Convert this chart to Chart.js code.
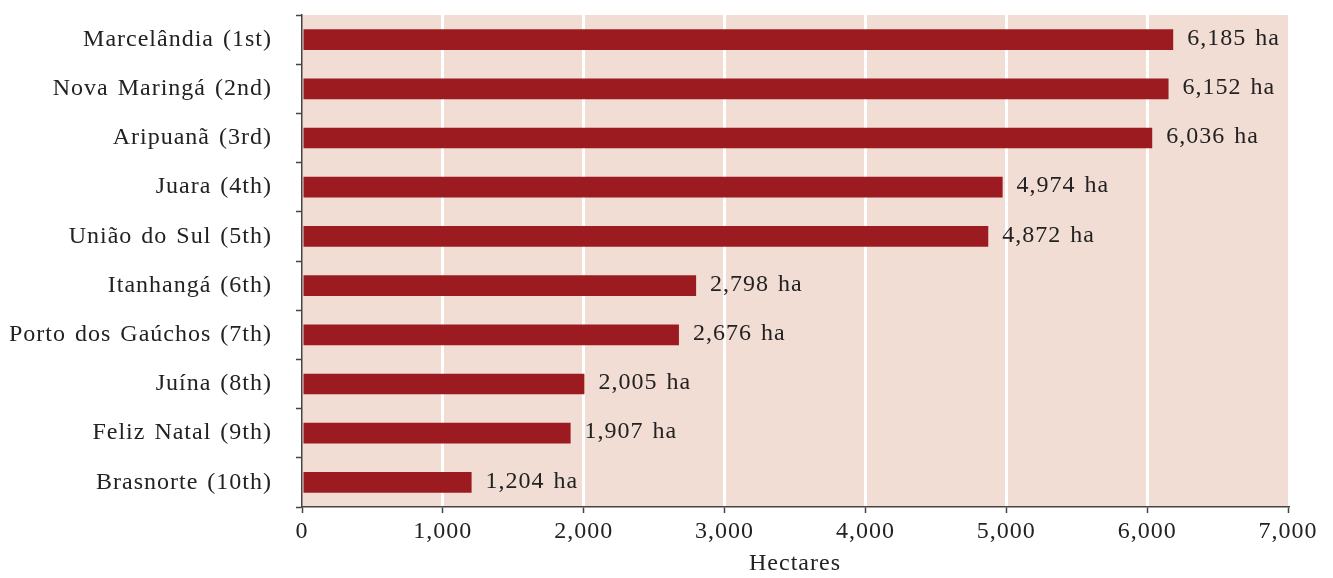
<!DOCTYPE html>
<html>
<head>
<meta charset="utf-8">
<script src="https://cdn.jsdelivr.net/npm/chart.js@4.4.1/dist/chart.umd.min.js"></script>
<style>
  html, body { margin: 0; padding: 0; background: #fff; }
  #wrap { position: relative; width: 1333px; height: 578px; }
</style>
</head>
<body>
<div id="wrap"><canvas id="c"></canvas></div>
<script>
// 城市（按排名）与面积（公顷）
const cities = ['Marcelândia (1st)', 'Nova Maringá (2nd)', 'Aripuanã (3rd)', 'Juara (4th)', 'União do Sul (5th)',
  'Itanhangá (6th)', 'Porto dos Gaúchos (7th)', 'Juína (8th)', 'Feliz Natal (9th)', 'Brasnorte (10th)'];
const hectares = [6185, 6152, 6036, 4974, 4872, 2798, 2676, 2005, 1907, 1204];
const xTicks = [0, 1000, 2000, 3000, 4000, 5000, 6000, 7000];

const FONT = "'Liberation Serif', 'Times New Roman', serif";
const FS = 24;
const SPACING = '1px';
const WORDSP = '2px';
const ink = '#222';

// 绘图区底色 + 全局字距（原图字体偏宽）
const plotBg = {
  id: 'plotBg',
  beforeDraw(chart) {
    const a = chart.chartArea, ctx = chart.ctx;
    ctx.letterSpacing = SPACING;
    ctx.wordSpacing = WORDSP;
    ctx.save();
    ctx.fillStyle = '#f2ddd4';
    ctx.fillRect(a.left, a.top, a.right - a.left, a.bottom - a.top);
    ctx.restore();
  },
};

// 柱尾数值标签 "6,185 ha"
const valueLabels = {
  id: 'valueLabels',
  afterDatasetsDraw(chart) {
    const ctx = chart.ctx;
    const meta = chart.getDatasetMeta(0);
    ctx.save();
    ctx.letterSpacing = SPACING;
    ctx.wordSpacing = WORDSP;
    ctx.font = FS + 'px ' + FONT;
    ctx.fillStyle = ink;
    ctx.textBaseline = 'middle';
    meta.data.forEach((bar, i) => {
      ctx.fillText(hectares[i].toLocaleString('en-US') + ' ha', bar.x + 14, bar.y - 1);
    });
    ctx.restore();
  },
};

new Chart(document.getElementById('c'), {
  type: 'bar',
  data: {
    labels: cities,
    datasets: [{
      data: hectares,
      backgroundColor: '#9b1b20',
      borderWidth: 0,
      barPercentage: 0.42,
      categoryPercentage: 1,
    }],
  },
  plugins: [plotBg, valueLabels],
  options: {
    indexAxis: 'y',
    responsive: true, maintainAspectRatio: false,
    animation: false,
    layout: { padding: { top: 15, right: 45, left: 0, bottom: 0 } },
    plugins: { legend: { display: false }, tooltip: { enabled: false } },
    scales: {
      x: {
        min: 0, max: 7000,
        afterBuildTicks: (s) => { s.ticks = xTicks.map((v) => ({ value: v })); },
        afterFit: (s) => { s.height = 71; s.paddingLeft = 0; s.paddingRight = 0; },
        ticks: {
          color: ink, font: { family: FONT, size: FS }, padding: 4,
          callback: (v) => Number(v).toLocaleString('en-US'),
        },
        grid: {
          color: (c) => (c.tick && (c.tick.value === 0 || c.tick.value === 7000)) ? 'rgba(0,0,0,0)' : '#ffffff',
          lineWidth: 3,
          tickColor: '#444', tickWidth: 1.5, tickLength: 6,
        },
        border: { display: true, color: '#444', width: 1.5 },
        title: {
          display: true, text: 'Hectares', color: ink,
          font: { family: FONT, size: FS }, padding: { top: 0, bottom: 0 },
        },
      },
      y: {
        offset: true,
        afterFit: (s) => { s.width = 302; s.paddingTop = 0; s.paddingBottom = 0; },
        ticks: { color: ink, font: { family: FONT, size: FS }, padding: 24 },
        grid: {
          offset: true, drawOnChartArea: false,
          color: '#444', tickColor: '#444', tickWidth: 1.5, tickLength: 6,
        },
        border: { display: true, color: '#444', width: 1.5 },
      },
    },
  },
});
</script>
</body>
</html>
